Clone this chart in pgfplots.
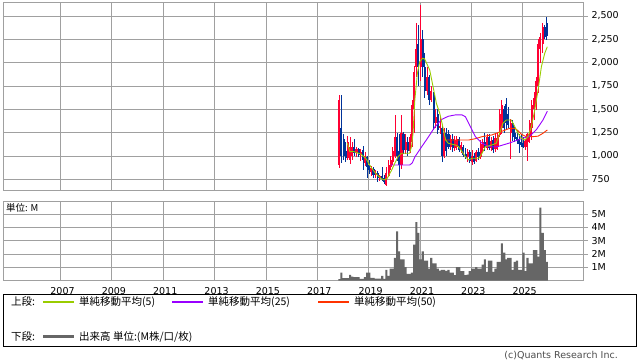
\documentclass[border=0pt]{standalone}
\usepackage{pgfplots}
\pgfplotsset{compat=1.18}
\usepackage{pgfplotstable}
\usepackage{fontspec}
\setmainfont{DejaVu Sans}
\newfontfamily\jp{Noto Sans CJK JP}
\definecolor{upc}{RGB}{255,0,51}
\definecolor{dnc}{RGB}{0,51,153}
\definecolor{ma5c}{RGB}{153,204,0}
\definecolor{ma25c}{RGB}{153,0,255}
\definecolor{ma50c}{RGB}{255,51,0}
\definecolor{gridc}{RGB}{160,160,160}
\definecolor{volc}{RGB}{102,102,102}

\pgfplotstableread{
t o h l c
2017.86 900 1650 870 1600
2018.19 980 1210 960 1150
2018.28 960 1200 910 1100
2018.36 1000 1150 960 1100
2018.53 1030 1100 990 1070
2018.69 1010 1070 950 1040
2018.86 920 1040 890 1000
2019.11 830 890 780 870
2019.28 800 850 760 820
2019.44 760 800 730 780
2019.69 690 880 680 820
2019.78 790 960 770 900
2019.86 880 1000 850 960
2019.94 940 1100 900 1050
2020.03 1000 1440 980 1200
2020.28 900 1440 860 1250
2020.44 1060 1230 1020 1150
2020.61 1050 1240 1030 1200
2020.69 1150 1600 1100 1550
2020.78 1500 1960 1250 1900
2020.86 1950 2430 1850 2150
2021.03 1950 2620 1800 2250
2021.28 1700 1950 1650 1850
2021.44 1600 1750 1580 1700
2021.61 1350 1500 1300 1420
2021.78 1300 1420 1240 1320
2021.94 1000 1300 980 1250
2022.19 1100 1220 1060 1180
2022.36 1080 1210 1050 1170
2022.44 1100 1210 1060 1180
2022.61 1060 1150 1030 1120
2022.86 990 1070 940 1040
2023.03 930 1060 900 1000
2023.19 950 1060 930 1040
2023.36 990 1170 970 1130
2023.44 1080 1180 1030 1150
2023.61 1080 1230 1060 1200
2023.78 1090 1200 1050 1160
2023.94 1070 1230 1040 1190
2024.03 1100 1250 1060 1220
2024.11 1220 1500 1200 1450
2024.19 1300 1600 1240 1550
2024.53 1250 1400 970 1350
2025.11 1100 1180 1060 1160
2025.19 1150 1250 950 1230
2025.28 1200 1390 1140 1350
2025.36 1300 1600 1170 1550
2025.44 1500 1680 1380 1620
2025.53 1550 1850 1490 1800
2025.61 1750 2250 1670 2200
2025.69 2150 2320 2000 2280
2025.78 2200 2420 2100 2380
}\upcandles

\pgfplotstableread{
t o h l c
2017.94 1300 1650 920 1000
2018.03 1180 1240 960 1000
2018.11 1050 1150 930 980
2018.44 1100 1180 1000 1030
2018.61 1070 1090 990 1010
2018.78 1060 1110 850 960
2018.94 990 1000 760 880
2019.03 900 960 810 850
2019.19 860 880 760 800
2019.36 820 840 720 760
2019.53 780 880 730 750
2019.61 760 800 700 720
2020.11 1200 1250 950 1000
2020.19 1050 1230 770 900
2020.36 1240 1260 1020 1060
2020.53 1150 1200 1000 1050
2020.94 2200 2400 1750 1950
2021.11 2250 2350 1850 1950
2021.19 1950 2100 1620 1700
2021.36 1850 1870 1550 1600
2021.53 1650 1680 1280 1350
2021.69 1450 1500 1230 1280
2021.86 1300 1330 940 1000
2022.03 1250 1300 1000 1050
2022.11 1230 1280 1070 1100
2022.28 1180 1230 1040 1080
2022.53 1180 1200 1040 1060
2022.69 1100 1120 990 1010
2022.78 1020 1080 970 990
2022.94 1040 1060 920 950
2023.11 1000 1030 910 940
2023.28 1040 1080 960 990
2023.53 1150 1250 1050 1100
2023.69 1200 1240 1060 1090
2023.86 1170 1210 1030 1060
2024.28 1500 1530 1250 1300
2024.36 1560 1620 1280 1350
2024.44 1450 1520 1300 1330
2024.61 1350 1380 1160 1200
2024.69 1250 1310 1150 1180
2024.78 1200 1280 1130 1160
2024.86 1180 1240 1030 1130
2024.94 1150 1230 1100 1120
2025.03 1140 1200 1080 1100
2025.86 2380 2400 2250 2280
2025.94 2420 2490 2240 2290
}\downcandles

\pgfplotstableread{
t v
2017.86 0.1
2017.94 0.6
2018.03 0.18
2018.11 0.18
2018.19 0.18
2018.28 0.43
2018.36 0.3
2018.44 0.25
2018.53 0.25
2018.61 0.25
2018.69 0.12
2018.78 0.12
2018.86 0.25
2018.94 0.6
2019.03 0.6
2019.11 0.2
2019.19 0.2
2019.28 0.15
2019.36 0.15
2019.44 0.15
2019.53 0.35
2019.61 0.12
2019.69 0.8
2019.78 0.35
2019.86 0.9
2019.94 0.9
2020.03 1.7
2020.11 3.7
2020.19 2.2
2020.28 1.6
2020.36 1.6
2020.44 1.0
2020.53 0.5
2020.61 0.5
2020.69 0.6
2020.78 2.7
2020.86 4.4
2020.94 3.6
2021.03 1.6
2021.11 2.2
2021.19 1.5
2021.28 1.5
2021.36 0.9
2021.44 1.7
2021.53 1.3
2021.61 1.3
2021.69 0.9
2021.78 0.75
2021.86 0.8
2021.94 0.8
2022.03 0.73
2022.11 0.8
2022.19 0.6
2022.28 0.6
2022.36 0.4
2022.44 1.0
2022.53 1.0
2022.61 0.7
2022.69 0.7
2022.78 0.4
2022.86 0.45
2022.94 0.7
2023.03 0.9
2023.11 0.9
2023.19 1.0
2023.28 0.9
2023.36 0.9
2023.44 1.2
2023.53 1.6
2023.61 0.65
2023.69 1.5
2023.78 1.5
2023.86 0.65
2023.94 0.9
2024.03 1.4
2024.11 1.4
2024.19 2.8
2024.28 2.1
2024.36 1.6
2024.44 1.7
2024.53 1.7
2024.61 0.8
2024.69 1.4
2024.78 1.5
2024.86 0.8
2024.94 0.8
2025.03 2.1
2025.11 0.7
2025.19 1.7
2025.28 1.3
2025.36 1.3
2025.44 2.3
2025.53 2.3
2025.61 1.8
2025.69 5.5
2025.78 3.6
2025.86 2.3
2025.94 1.4
}\volume

\pgfplotsset{
  common/.style={
    scale only axis, width=580bp, anchor=south west,
    xmin=2004.76, xmax=2027.35,
    xtick={2007,2009,2011,2013,2015,2017,2019,2021,2023,2025},
    grid=major,
    major grid style={draw=gridc, line width=0.8bp},
    axis line style={draw=gridc, line width=0.8bp},
    xtick style={draw=none},
    ytick style={draw=gridc, line width=0.8bp},
    ytick pos=right, yticklabel pos=right,
    tick align=outside, major tick length=5bp,
    tick label style={font=\fontsize{9.5bp}{11bp}\selectfont, text=black},
    /pgf/number format/assume math mode=true,
    /pgf/number format/1000 sep={,},
  },
  wick/.style={draw=none, mark=none, forget plot,
    error bars/.cd, y dir=both, y explicit, error mark=none,
    error bar style={draw=#1, line width=0.9bp}},
  body/.style={draw=none, mark=none, forget plot,
    error bars/.cd, y dir=both, y explicit, error mark=none,
    error bar style={draw=#1, line width=2.1bp}},
}

\begin{document}
\begin{tikzpicture}
\useasboundingbox (0,0) rectangle (638bp,362bp);

% upper panel: price
\begin{axis}[common, at={(3bp,172bp)}, height=188bp,
  ymin=635, ymax=2650, ytick={750,1000,1250,1500,1750,2000,2250,2500},
  xticklabels={}]
\addplot[wick=upc] table[x=t, y expr={(\thisrow{h}+\thisrow{l})/2}, y error expr={(\thisrow{h}-\thisrow{l})/2}] {\upcandles};
\addplot[wick=dnc] table[x=t, y expr={(\thisrow{h}+\thisrow{l})/2}, y error expr={(\thisrow{h}-\thisrow{l})/2}] {\downcandles};
\addplot[body=upc] table[x=t, y expr={(\thisrow{o}+\thisrow{c})/2}, y error expr={abs(\thisrow{c}-\thisrow{o})/2}] {\upcandles};
\addplot[body=dnc] table[x=t, y expr={(\thisrow{o}+\thisrow{c})/2}, y error expr={abs(\thisrow{c}-\thisrow{o})/2}] {\downcandles};
% MA 50
\addplot[ma50c, line width=0.9bp, mark=none] coordinates {
(2021.90,1171)(2022.5,1171)(2022.9,1171)(2023.16,1185)(2023.42,1207)(2023.8,1225)(2023.97,1243)(2024.23,1268)(2024.49,1296)(2024.69,1296)(2024.82,1271)(2024.95,1232)(2025.14,1207)(2025.4,1207)(2025.6,1212)(2025.79,1243)(2025.96,1278)};
% MA 25
\addplot[ma25c, line width=0.9bp, mark=none] coordinates {
(2019.85,903)(2020.6,903)(2020.7,925)(2020.8,988)(2021.06,1096)(2021.32,1200)(2021.58,1310)(2021.84,1390)(2022.1,1425)(2022.38,1440)(2022.64,1440)(2022.77,1420)(2022.9,1350)(2023.03,1278)(2023.16,1207)(2023.29,1171)(2023.42,1136)(2023.68,1100)(2023.97,1096)(2024.48,1138)(2025.0,1190)(2025.27,1210)(2025.53,1280)(2025.79,1385)(2025.96,1480)};
% MA 5
\addplot[ma5c, line width=0.9bp, mark=none] coordinates {
(2018.17,1136)(2018.27,1046)(2018.43,1046)(2018.69,1021)(2018.89,975)(2019.08,885)(2019.27,814)(2019.47,761)(2019.6,743)(2019.73,761)(2019.76,778)(2019.9,850)(2020.02,921)(2020.15,992)(2020.28,1029)(2020.6,1029)(2020.67,1100)(2020.73,1243)(2020.8,1600)(2020.9,1886)(2020.99,2010)(2021.1,2047)(2021.18,2040)(2021.38,1921)(2021.51,1742)(2021.64,1564)(2021.77,1457)(2021.86,1350)(2021.93,1260)(2022.0,1171)(2022.1,1136)(2022.37,1118)(2022.5,1100)(2022.64,1046)(2022.77,992)(2022.9,957)(2023.03,975)(2023.29,975)(2023.42,1029)(2023.55,1100)(2023.81,1118)(2023.97,1136)(2024.1,1243)(2024.23,1350)(2024.36,1385)(2024.56,1385)(2024.69,1314)(2024.82,1243)(2024.95,1189)(2025.08,1171)(2025.21,1207)(2025.34,1314)(2025.47,1493)(2025.6,1707)(2025.73,1957)(2025.86,2100)(2025.96,2171)};
\end{axis}

% lower panel: volume
\begin{axis}[common, at={(3bp,81.5bp)}, height=79.5bp,
  ymin=0, ymax=6, ytick={1,2,3,4,5}, yticklabels={1M,2M,3M,4M,5M},
  xticklabels={2007,2009,2011,2013,2015,2017,2019,2021,2023,2025},
  xticklabel style={yshift=2bp, xshift=2bp}]
\addplot[ybar, bar width=2.14bp, fill=volc, draw=none] table[x=t, y=v] {\volume};
\end{axis}

\node[anchor=west, font=\jp\fontsize{9.5bp}{11bp}\selectfont, inner sep=0pt] at (6bp,154bp) {単位: M};

% legend box
\draw[black, line width=0.8bp] (3.5bp,16bp) rectangle (636bp,68bp);
\begin{scope}[every node/.style={anchor=west, inner sep=0pt, font=\jp\fontsize{10.5bp}{12bp}\selectfont}]
\node at (11bp,60bp) {上段:};
\draw[draw=ma5c, line width=1.2bp] (43bp,60bp) -- (74bp,60bp);
\node at (79bp,60bp) {単純移動平均(5)};
\draw[draw=ma25c, line width=1.2bp] (172bp,60bp) -- (203bp,60bp);
\node at (208bp,60bp) {単純移動平均(25)};
\draw[draw=ma50c, line width=1.2bp] (318bp,60bp) -- (349bp,60bp);
\node at (354bp,60bp) {単純移動平均(50)};
\node at (11bp,25bp) {下段:};
\draw[draw=volc, line width=3bp] (43bp,25bp) -- (74bp,25bp);
\node at (79bp,25bp) {出来高 単位:(M株/口/枚)};
\end{scope}
\node[anchor=east, inner sep=0pt, font=\fontsize{9.5bp}{11bp}\selectfont, text=black!70] at (618bp,6bp) {(c)Quants Research Inc.};
\end{tikzpicture}
\end{document}
